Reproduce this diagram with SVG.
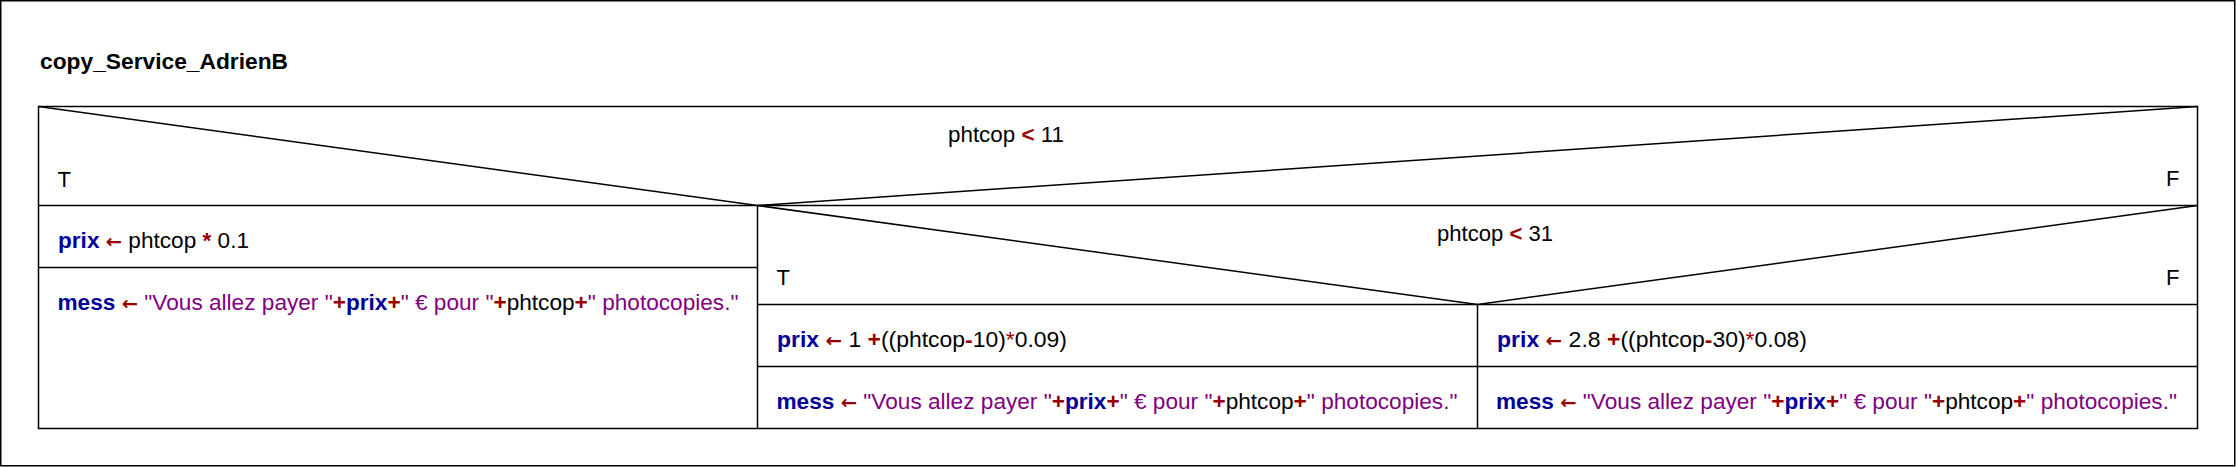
<svg xmlns="http://www.w3.org/2000/svg" width="2237" height="467" viewBox="0 0 2237 467">
<style>
text{font-family:"Liberation Sans",Arial,sans-serif;font-size:22px;fill:#000}
.title{font-weight:bold}
.v{fill:#000099;font-weight:bold}
.o{fill:#990000;font-weight:bold}
.a{fill:#990000;font-weight:bold;font-family:"DejaVu Sans",sans-serif;font-size:19px}
.on{fill:#990000}
.s{fill:#800080}
.frame{fill:none;stroke:#000;stroke-width:1.5}
line,polyline{stroke:#000;stroke-width:1.5;fill:none}
</style>
<rect x="0" y="0" width="2237" height="467" fill="#fff"/>
<rect class="frame" x="0.75" y="0.75" width="2234" height="465"/>
<g id="title">
<text class="title" x="40" y="69" textLength="248" lengthAdjust="spacingAndGlyphs">copy_Service_AdrienB</text>
</g>
<g id="alt1">
<rect class="frame" x="38.5" y="106.5" width="2159" height="322"/>
<line x1="38.5" y1="205.5" x2="2197.5" y2="205.5"/>
<polyline points="38.5,106.5 757.5,205.5 2197.5,106.5"/>
<line x1="757.5" y1="205.5" x2="757.5" y2="428.5"/>
<text x="948" y="142" textLength="116" lengthAdjust="spacingAndGlyphs">phtcop <tspan class="o">&lt;</tspan> 11</text>
<text x="57.5" y="187">T</text>
<text x="2166" y="186">F</text>
</g>
<g id="prix1">
<line x1="38.5" y1="267.5" x2="757.5" y2="267.5"/>
<text x="58" y="248" textLength="191" lengthAdjust="spacingAndGlyphs"><tspan class="v">prix</tspan> <tspan class="a">←</tspan> phtcop <tspan class="o">*</tspan> 0.1</text>
</g>
<g id="mess1">
<text x="57.5" y="309.5" textLength="681" lengthAdjust="spacingAndGlyphs"><tspan class="v">mess</tspan> <tspan class="a">←</tspan> <tspan class="s">"Vous allez payer "</tspan><tspan class="o">+</tspan><tspan class="v">prix</tspan><tspan class="o">+</tspan><tspan class="s">" € pour "</tspan><tspan class="o">+</tspan>phtcop<tspan class="o">+</tspan><tspan class="s">" photocopies."</tspan></text>
</g>
<g id="alt2">
<line x1="757.5" y1="304.5" x2="2197.5" y2="304.5"/>
<polyline points="757.5,205.5 1477.5,304.5 2197.5,205.5"/>
<line x1="1477.5" y1="304.5" x2="1477.5" y2="428.5"/>
<text x="1437" y="241" textLength="116" lengthAdjust="spacingAndGlyphs">phtcop <tspan class="o">&lt;</tspan> 31</text>
<text x="776.5" y="284.5">T</text>
<text x="2166" y="284.5">F</text>
</g>
<g id="prix2">
<line x1="757.5" y1="366.5" x2="2197.5" y2="366.5"/>
<text x="777" y="347" textLength="290" lengthAdjust="spacingAndGlyphs"><tspan class="v">prix</tspan> <tspan class="a">←</tspan> 1 <tspan class="o">+</tspan>((phtcop<tspan class="o">-</tspan>10)<tspan class="on">*</tspan>0.09)</text>
</g>
<g id="mess2">
<text x="776.5" y="408.5" textLength="681" lengthAdjust="spacingAndGlyphs"><tspan class="v">mess</tspan> <tspan class="a">←</tspan> <tspan class="s">"Vous allez payer "</tspan><tspan class="o">+</tspan><tspan class="v">prix</tspan><tspan class="o">+</tspan><tspan class="s">" € pour "</tspan><tspan class="o">+</tspan>phtcop<tspan class="o">+</tspan><tspan class="s">" photocopies."</tspan></text>
</g>
<g id="prix3">
<text x="1497" y="347" textLength="310" lengthAdjust="spacingAndGlyphs"><tspan class="v">prix</tspan> <tspan class="a">←</tspan> 2.8 <tspan class="o">+</tspan>((phtcop<tspan class="o">-</tspan>30)<tspan class="on">*</tspan>0.08)</text>
</g>
<g id="mess3">
<text x="1496" y="408.5" textLength="681" lengthAdjust="spacingAndGlyphs"><tspan class="v">mess</tspan> <tspan class="a">←</tspan> <tspan class="s">"Vous allez payer "</tspan><tspan class="o">+</tspan><tspan class="v">prix</tspan><tspan class="o">+</tspan><tspan class="s">" € pour "</tspan><tspan class="o">+</tspan>phtcop<tspan class="o">+</tspan><tspan class="s">" photocopies."</tspan></text>
</g>
<g id="connectors"></g>
</svg>
